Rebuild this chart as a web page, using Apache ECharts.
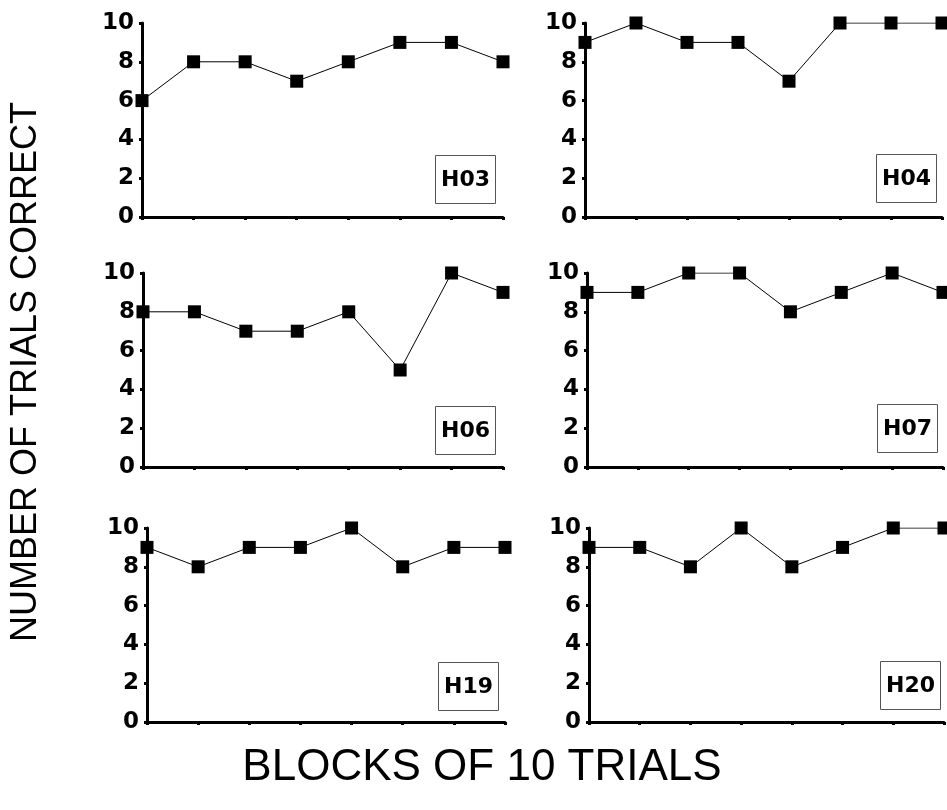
<!DOCTYPE html>
<html>
<head>
<meta charset="utf-8">
<script src="https://cdn.jsdelivr.net/npm/echarts@6/dist/echarts.min.js"></script>
<style>html,body{margin:0;padding:0;background:#fff;}#c{width:947px;height:810px;}</style>
</head>
<body>
<div id="c"></div>
<script>
const blocks = ['1','2','3','4','5','6','7','8'];
const yTicks = [0, 2, 4, 6, 8, 10];
const subjects = ['H03', 'H04', 'H06', 'H07', 'H19', 'H20'];
const h03 = [6, 8, 8, 7, 8, 9, 9, 8];
const h04 = [9, 10, 9, 9, 7, 10, 10, 10];
const h06 = [8, 8, 7, 7, 8, 5, 10, 9];
const h07 = [9, 9, 10, 10, 8, 9, 10, 9];
const h19 = [9, 8, 9, 9, 10, 8, 9, 9];
const h20 = [9, 9, 8, 10, 8, 9, 10, 10];
const seriesData = [h03, h04, h06, h07, h19, h20];
const xTitle = 'BLOCKS OF 10 TRIALS';
const yTitle = 'NUMBER OF TRIALS CORRECT';

// layout
const grids = [
  {left: 142, top: 23, width: 361, height: 194},
  {left: 585, top: 23, width: 357, height: 194},
  {left: 143, top: 273, width: 360, height: 194},
  {left: 587, top: 273, width: 356, height: 194},
  {left: 147, top: 528, width: 358, height: 194},
  {left: 589, top: 528, width: 355, height: 194}
];
const boxes = [
  {left: 435, top: 155}, {left: 876, top: 154},
  {left: 435, top: 406}, {left: 877, top: 404},
  {left: 438, top: 662}, {left: 880, top: 661}
];
const labelFont = 'DejaVu Sans, Liberation Sans, Arial, sans-serif';
const titleFont = 'Liberation Sans, Arial, sans-serif';

const chart = echarts.init(document.getElementById('c'));
const option = {
  backgroundColor: '#fff',
  animation: false,
  grid: grids.map(g => Object.assign({containLabel: false}, g)),
  xAxis: grids.map((g, i) => ({
    gridIndex: i, type: 'category', data: blocks, boundaryGap: false,
    axisLine: {show: true, lineStyle: {color: '#000', width: 3}},
    axisTick: {show: true, alignWithLabel: true, length: 3, lineStyle: {color: '#000', width: 3}},
    axisLabel: {show: false}, splitLine: {show: false}
  })),
  yAxis: grids.map((g, i) => ({
    gridIndex: i, type: 'value', min: yTicks[0], max: yTicks[yTicks.length - 1], interval: 2,
    axisLine: {show: true, lineStyle: {color: '#000', width: 3}},
    axisTick: {show: true, length: 3, lineStyle: {color: '#000', width: 3}},
    axisLabel: {show: true, color: '#000', fontSize: 23, fontWeight: 'bold', fontFamily: labelFont, margin: 8},
    splitLine: {show: false}
  })),
  title: subjects.map((s, i) => ({
    text: s, left: boxes[i].left, top: boxes[i].top,
    borderColor: '#555', borderWidth: 1, padding: [14, 6, 13, 6],
    backgroundColor: '#fff',
    textStyle: {color: '#000', fontSize: 22, fontWeight: 'bold', fontFamily: labelFont}
  })),
  series: seriesData.map((d, i) => ({
    type: 'line', xAxisIndex: i, yAxisIndex: i, data: d,
    symbol: 'rect', symbolSize: 13,
    lineStyle: {color: '#000', width: 1},
    itemStyle: {color: '#000'},
    z: 5
  })),
  graphic: [
    {type: 'text', x: 482, y: 768,
     style: {text: xTitle, fill: '#000', fontSize: 44, fontFamily: titleFont, align: 'center', verticalAlign: 'middle'}},
    {type: 'text', x: 26, y: 372, rotation: Math.PI / 2,
     style: {text: yTitle, fill: '#000', fontSize: 36, fontFamily: titleFont, align: 'center', verticalAlign: 'middle'}}
  ]
};
chart.setOption(option);
</script>
</body>
</html>
